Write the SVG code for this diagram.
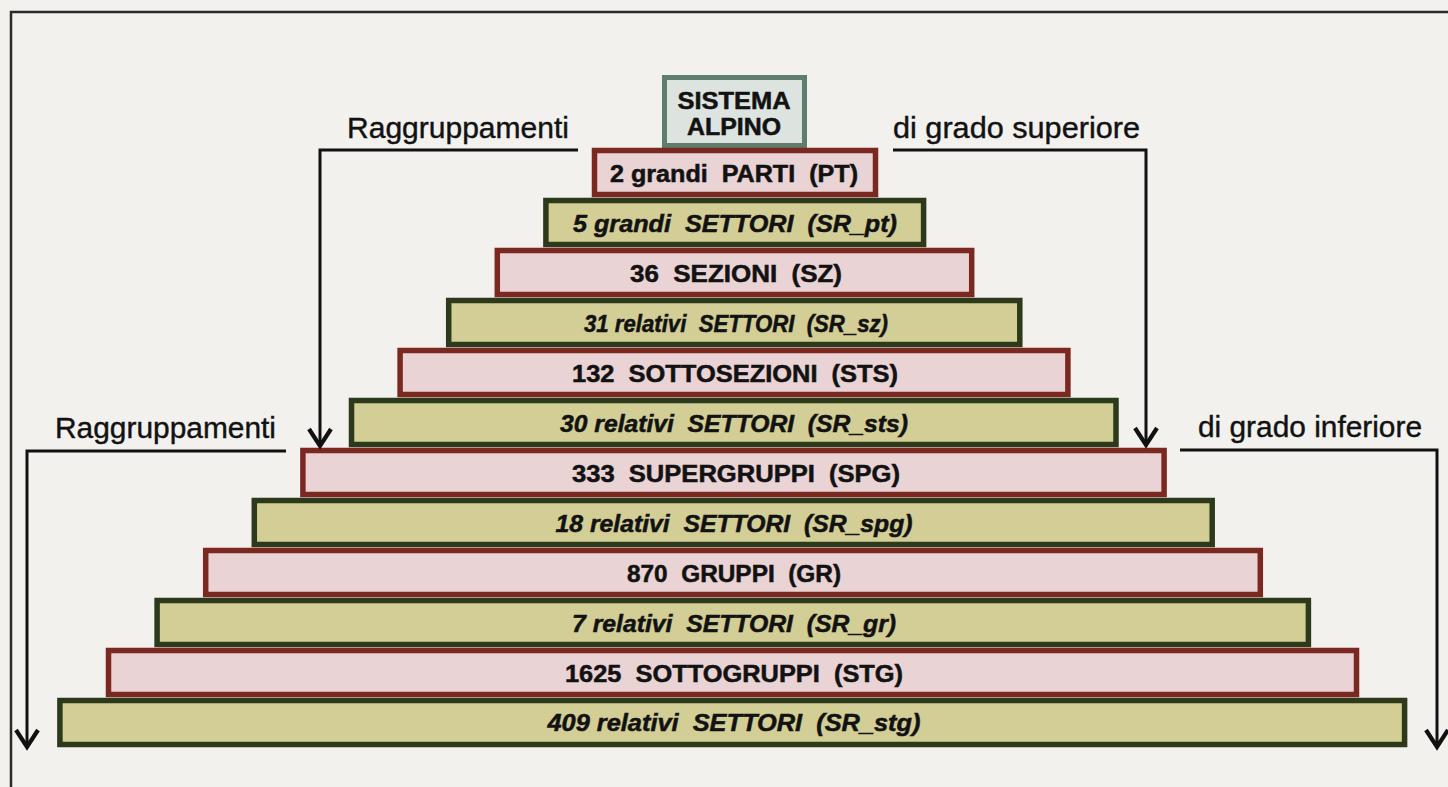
<svg xmlns="http://www.w3.org/2000/svg" width="1448" height="787" viewBox="0 0 1448 787">
  <style>
    .bg { fill: #f2f1ee; }
    .frame { fill: none; stroke: #2a2a2a; stroke-width: 2.5; }
    .pink { fill: #ead3d4; stroke: #7a2820; stroke-width: 5.5; }
    .green { fill: #d2ce95; stroke: #2c391a; stroke-width: 5.5; }
    .top { fill: #dde3df; stroke: #5e7d6c; stroke-width: 5; }
    .t { font-family: "Liberation Sans", Arial, sans-serif; font-weight: bold; font-size: 23px; fill: #121212; stroke: #121212; stroke-width: 0.5; text-anchor: middle; white-space: pre; }
    .ti { font-style: italic; }
    .lbl { font-family: "Liberation Sans", Arial, sans-serif; font-size: 29px; fill: #121212; stroke: #121212; stroke-width: 0.4; }
    .conn { fill: none; stroke: #111; stroke-width: 3; }
  </style>
  <defs>
    <marker id="chev" markerUnits="userSpaceOnUse" markerWidth="30" markerHeight="30" viewBox="-20 -15 30 30" refX="0" refY="0" orient="auto">
      <path d="M-18,-11 L-1,0 L-18,11" fill="none" stroke="#111" stroke-width="4.2"/>
    </marker>
  </defs>

  <rect class="bg" x="0" y="0" width="1448" height="787"/>
  <!-- outer frame (left and top edges) -->
  <path class="frame" d="M11,787 V12 H1448"/>

  <!-- apex -->
  <g id="sistema-alpino">
    <rect class="top" x="664.5" y="77.5" width="140" height="68"/>
    <text class="t" x="734" y="109" textLength="113" lengthAdjust="spacingAndGlyphs">SISTEMA</text>
    <text class="t" x="734" y="135" textLength="94" lengthAdjust="spacingAndGlyphs">ALPINO</text>
  </g>

  <!-- pyramid levels -->
  <g id="pt">
    <rect class="pink" x="594.5" y="150.5" width="281" height="44"/>
    <text class="t" x="734" y="182" textLength="248" lengthAdjust="spacingAndGlyphs">2 grandi  PARTI  (PT)</text>
  </g>
  <g id="sr-pt">
    <rect class="green" x="545.9" y="200.5" width="377.7" height="44"/>
    <text class="t ti" x="735" y="232" textLength="324" lengthAdjust="spacingAndGlyphs">5 grandi  SETTORI  (SR_pt)</text>
  </g>
  <g id="sz">
    <rect class="pink" x="497.3" y="250.5" width="474.4" height="44"/>
    <text class="t" x="736" y="282" textLength="212" lengthAdjust="spacingAndGlyphs">36  SEZIONI  (SZ)</text>
  </g>
  <g id="sr-sz">
    <rect class="green" x="448.7" y="300.5" width="571.1" height="44"/>
    <text class="t ti" x="736" y="332" textLength="304" lengthAdjust="spacingAndGlyphs">31 relativi  SETTORI  (SR_sz)</text>
  </g>
  <g id="sts">
    <rect class="pink" x="400.1" y="350.5" width="667.8" height="44"/>
    <text class="t" x="735" y="382" textLength="326" lengthAdjust="spacingAndGlyphs">132  SOTTOSEZIONI  (STS)</text>
  </g>
  <g id="sr-sts">
    <rect class="green" x="351.5" y="400.5" width="764.5" height="44"/>
    <text class="t ti" x="734" y="432" textLength="348" lengthAdjust="spacingAndGlyphs">30 relativi  SETTORI  (SR_sts)</text>
  </g>
  <g id="spg">
    <rect class="pink" x="302.9" y="450.5" width="861.2" height="44"/>
    <text class="t" x="736" y="482" textLength="328" lengthAdjust="spacingAndGlyphs">333  SUPERGRUPPI  (SPG)</text>
  </g>
  <g id="sr-spg">
    <rect class="green" x="254.3" y="500.5" width="957.9" height="44"/>
    <text class="t ti" x="734" y="532" textLength="357" lengthAdjust="spacingAndGlyphs">18 relativi  SETTORI  (SR_spg)</text>
  </g>
  <g id="gr">
    <rect class="pink" x="205.7" y="550.5" width="1054.6" height="44"/>
    <text class="t" x="734" y="582" textLength="214" lengthAdjust="spacingAndGlyphs">870  GRUPPI  (GR)</text>
  </g>
  <g id="sr-gr">
    <rect class="green" x="157.1" y="600.5" width="1151.3" height="44"/>
    <text class="t ti" x="734" y="632" textLength="324" lengthAdjust="spacingAndGlyphs">7 relativi  SETTORI  (SR_gr)</text>
  </g>
  <g id="stg">
    <rect class="pink" x="108.5" y="650.5" width="1248" height="44"/>
    <text class="t" x="734" y="682" textLength="338" lengthAdjust="spacingAndGlyphs">1625  SOTTOGRUPPI  (STG)</text>
  </g>
  <g id="sr-stg">
    <rect class="green" x="59.9" y="700.5" width="1344.7" height="44"/>
    <text class="t ti" x="734" y="731" textLength="373" lengthAdjust="spacingAndGlyphs">409 relativi  SETTORI  (SR_stg)</text>
  </g>

  <!-- side labels -->
  <g id="labels">
    <text class="lbl" x="347" y="138" textLength="222" lengthAdjust="spacingAndGlyphs">Raggruppamenti</text>
    <text class="lbl" x="893" y="138" textLength="247" lengthAdjust="spacingAndGlyphs">di grado superiore</text>
    <text class="lbl" x="55" y="438" textLength="221" lengthAdjust="spacingAndGlyphs">Raggruppamenti</text>
    <text class="lbl" x="1198" y="437" textLength="224" lengthAdjust="spacingAndGlyphs">di grado inferiore</text>
  </g>

  <!-- connectors -->
  <g id="connectors">
    <path class="conn" d="M578,150 H320 V447" marker-end="url(#chev)"/>
    <path class="conn" d="M893,150 H1146 V446" marker-end="url(#chev)"/>
    <path class="conn" d="M286,451 H27 V748" marker-end="url(#chev)"/>
    <path class="conn" d="M1180,450 H1437 V748" marker-end="url(#chev)"/>
  </g>
</svg>
